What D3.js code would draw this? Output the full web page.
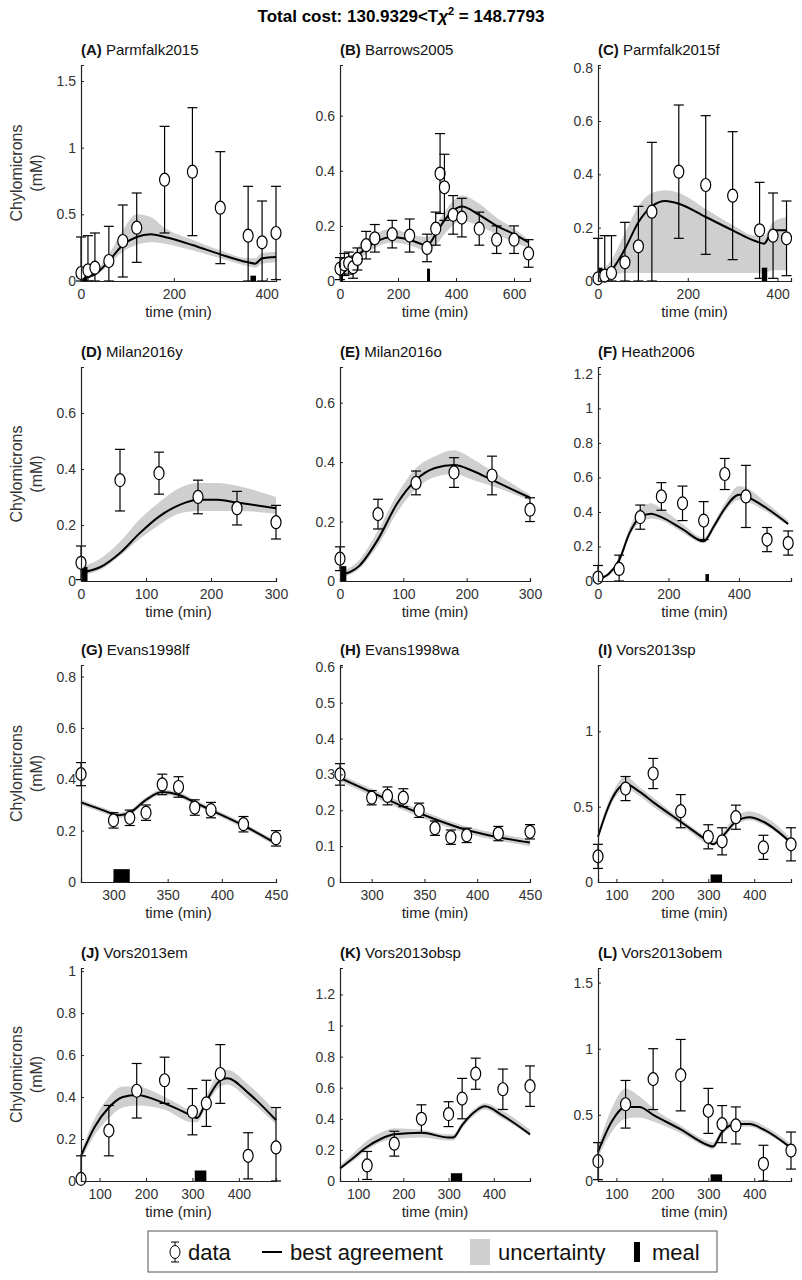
<!DOCTYPE html>
<html><head><meta charset="utf-8">
<script src="https://cdn.jsdelivr.net/npm/d3@7"></script>
<style>body{margin:0;background:#fff}</style></head>
<body><svg id="c" width="802" height="1280"></svg>
<script>
const panelNames=["Parmfalk2015","Barrows2005","Parmfalk2015f","Milan2016y","Milan2016o","Heath2006","Evans1998lf","Evans1998wa","Vors2013sp","Vors2013em","Vors2013obsp","Vors2013obem"];
const panelLetters=["A","B","C","D","E","F","G","H","I","J","K","L"];
const xDomains=[[0,420],[0,655],[0,430],[0,300],[0,300],[0,548],[270,450],[270,450],[60,480],[60,480],[60,480],[60,480]];
const yMax=[1.62,0.784,0.81,0.764,0.72,1.24,0.845,0.605,1.44,1.015,1.37,1.61];
const xTicks=[[0,200,400],[0,200,400,600],[0,200,400],[0,100,200,300],[0,100,200,300],[0,200,400],[300,350,400,450],[300,350,400,450],[100,200,300,400],[100,200,300,400],[100,200,300,400],[100,200,300,400]];
const yTicks=[[0,0.5,1,1.5],[0,0.2,0.4,0.6],[0,0.2,0.4,0.6,0.8],[0,0.2,0.4,0.6],[0,0.2,0.4,0.6],[0,0.2,0.4,0.6,0.8,1,1.2],[0,0.2,0.4,0.6,0.8],[0,0.1,0.2,0.3,0.4,0.5,0.6],[0,0.5,1],[0,0.2,0.4,0.6,0.8,1],[0,0.2,0.4,0.6,0.8,1,1.2],[0,0.5,1,1.5]];
// data points: [t, value, error]
const dataPts=[
[[0,0.06,0.27],[15,0.08,0.26],[30,0.1,0.26],[60,0.15,0.26],[90,0.3,0.27],[120,0.4,0.26],[180,0.76,0.4],[240,0.82,0.48],[300,0.55,0.42],[360,0.34,0.37],[390,0.29,0.31],[420,0.36,0.35]],
[[0,0.045,0.04],[15,0.06,0.04],[30,0.065,0.04],[45,0.05,0.04],[60,0.08,0.04],[90,0.13,0.05],[120,0.155,0.05],[180,0.17,0.05],[240,0.165,0.06],[300,0.12,0.05],[330,0.19,0.06],[345,0.39,0.145],[360,0.34,0.12],[390,0.24,0.07],[420,0.23,0.07],[480,0.19,0.06],[540,0.15,0.05],[600,0.15,0.05],[650,0.1,0.05]],
[[0,0.01,0.15],[15,0.02,0.15],[30,0.03,0.14],[60,0.07,0.15],[90,0.13,0.15],[120,0.26,0.26],[180,0.41,0.25],[240,0.36,0.26],[300,0.32,0.24],[360,0.19,0.18],[390,0.17,0.16],[420,0.16,0.14]],
[[0,0.065,0.06],[60,0.36,0.11],[120,0.385,0.075],[180,0.3,0.06],[240,0.26,0.06],[300,0.21,0.06]],
[[0,0.075,0.04],[60,0.225,0.05],[120,0.33,0.04],[180,0.365,0.05],[240,0.355,0.065],[300,0.24,0.04]],
[[0,0.02,0.07],[60,0.07,0.08],[120,0.37,0.07],[180,0.49,0.08],[240,0.45,0.1],[300,0.35,0.11],[360,0.62,0.09],[420,0.49,0.18],[480,0.24,0.07],[540,0.22,0.07]],
[[270,0.42,0.045],[300,0.24,0.03],[315,0.25,0.03],[330,0.27,0.03],[345,0.38,0.04],[360,0.37,0.04],[375,0.29,0.03],[390,0.28,0.03],[420,0.225,0.03],[450,0.17,0.03]],
[[270,0.3,0.03],[300,0.235,0.02],[315,0.24,0.025],[330,0.235,0.025],[345,0.2,0.02],[360,0.15,0.02],[375,0.125,0.02],[390,0.13,0.02],[420,0.135,0.02],[450,0.14,0.02]],
[[60,0.17,0.08],[120,0.62,0.08],[180,0.72,0.1],[240,0.47,0.11],[300,0.3,0.08],[330,0.27,0.09],[360,0.43,0.08],[420,0.23,0.08],[480,0.25,0.11]],
[[60,0.01,0.11],[120,0.24,0.12],[180,0.43,0.13],[240,0.48,0.11],[300,0.33,0.11],[330,0.37,0.11],[360,0.51,0.14],[420,0.12,0.11],[480,0.16,0.19]],
[[120,0.1,0.09],[180,0.24,0.08],[240,0.4,0.09],[300,0.43,0.08],[330,0.53,0.13],[360,0.69,0.1],[420,0.59,0.13],[480,0.61,0.13]],
[[60,0.15,0.14],[120,0.58,0.18],[180,0.77,0.23],[240,0.8,0.27],[300,0.53,0.17],[330,0.43,0.14],[360,0.42,0.14],[420,0.13,0.14],[480,0.23,0.14]]
];
// best agreement curves: [t, value, band low, band high]
const curves=[
[[0,0.02,0.01,0.03],[30,0.05,0.04,0.07],[60,0.15,0.12,0.2],[90,0.27,0.22,0.38],[120,0.33,0.27,0.5],[150,0.35,0.29,0.48],[180,0.33,0.28,0.4],[240,0.27,0.23,0.31],[300,0.2,0.17,0.23],[360,0.14,0.11,0.17],[375,0.13,0.1,0.17],[390,0.17,0.13,0.21],[420,0.18,0.14,0.22]],
[[0,0.02,0.01,0.04],[30,0.05,0.03,0.07],[60,0.09,0.07,0.12],[120,0.14,0.12,0.17],[180,0.16,0.14,0.19],[240,0.15,0.13,0.17],[300,0.13,0.11,0.16],[330,0.17,0.13,0.2],[360,0.22,0.17,0.25],[420,0.27,0.22,0.31],[480,0.24,0.2,0.28],[540,0.2,0.17,0.23],[600,0.17,0.14,0.19],[650,0.14,0.12,0.15]],
[[0,0.01,0.0,0.03],[30,0.04,0.02,0.08],[60,0.12,0.03,0.18],[90,0.22,0.03,0.28],[120,0.28,0.03,0.33],[150,0.3,0.03,0.34],[180,0.29,0.03,0.33],[240,0.24,0.03,0.27],[300,0.19,0.03,0.21],[350,0.15,0.03,0.17],[370,0.14,0.03,0.17],[390,0.19,0.04,0.22],[420,0.19,0.04,0.24]],
[[0,0.03,0.02,0.05],[30,0.05,0.04,0.08],[60,0.1,0.09,0.14],[90,0.17,0.15,0.22],[120,0.23,0.2,0.28],[150,0.27,0.24,0.33],[180,0.29,0.25,0.35],[210,0.29,0.25,0.35],[240,0.28,0.25,0.34],[300,0.26,0.24,0.3]],
[[0,0.02,0.01,0.03],[30,0.05,0.04,0.07],[60,0.14,0.12,0.17],[90,0.26,0.23,0.29],[120,0.34,0.31,0.38],[150,0.38,0.35,0.42],[180,0.39,0.36,0.44],[210,0.37,0.34,0.41],[240,0.34,0.32,0.37],[300,0.28,0.27,0.29]],
[[0,0.01,0.0,0.02],[30,0.04,0.03,0.05],[60,0.12,0.1,0.14],[90,0.28,0.26,0.31],[120,0.37,0.34,0.42],[150,0.39,0.36,0.45],[180,0.37,0.35,0.42],[240,0.3,0.28,0.33],[300,0.23,0.22,0.25],[330,0.32,0.3,0.34],[360,0.42,0.4,0.45],[400,0.5,0.47,0.55],[420,0.49,0.46,0.54],[480,0.42,0.4,0.45],[540,0.33,0.32,0.35]],
[[270,0.31,0.3,0.32],[290,0.28,0.27,0.29],[305,0.26,0.25,0.27],[315,0.27,0.26,0.28],[330,0.32,0.31,0.33],[345,0.35,0.34,0.36],[360,0.34,0.33,0.35],[375,0.31,0.3,0.32],[390,0.28,0.27,0.29],[420,0.22,0.21,0.23],[450,0.15,0.14,0.16]],
[[270,0.29,0.28,0.3],[300,0.25,0.24,0.26],[330,0.21,0.2,0.22],[360,0.175,0.165,0.185],[390,0.145,0.135,0.155],[420,0.125,0.115,0.135],[450,0.11,0.1,0.12]],
[[60,0.3,0.28,0.33],[90,0.55,0.52,0.58],[120,0.65,0.62,0.7],[150,0.6,0.57,0.63],[180,0.53,0.5,0.56],[240,0.4,0.38,0.42],[300,0.27,0.25,0.29],[310,0.25,0.24,0.27],[330,0.3,0.28,0.32],[360,0.4,0.38,0.44],[390,0.43,0.41,0.47],[420,0.4,0.38,0.44],[480,0.26,0.25,0.29]],
[[60,0.12,0.1,0.14],[90,0.26,0.22,0.3],[120,0.35,0.3,0.4],[150,0.4,0.35,0.45],[180,0.41,0.36,0.45],[240,0.37,0.34,0.4],[300,0.31,0.28,0.33],[310,0.3,0.28,0.32],[330,0.38,0.36,0.41],[360,0.48,0.45,0.52],[375,0.49,0.46,0.53],[420,0.42,0.39,0.46],[480,0.29,0.27,0.33]],
[[60,0.08,0.07,0.1],[90,0.15,0.13,0.18],[120,0.22,0.2,0.26],[150,0.27,0.25,0.31],[180,0.3,0.27,0.34],[240,0.31,0.28,0.33],[300,0.28,0.26,0.3],[310,0.28,0.26,0.3],[330,0.36,0.34,0.38],[360,0.45,0.43,0.47],[380,0.48,0.46,0.5],[420,0.42,0.4,0.45],[480,0.3,0.29,0.33]],
[[60,0.22,0.18,0.26],[90,0.45,0.37,0.55],[120,0.56,0.47,0.7],[150,0.56,0.48,0.64],[180,0.5,0.45,0.55],[240,0.39,0.36,0.42],[300,0.27,0.25,0.3],[310,0.26,0.24,0.29],[330,0.37,0.35,0.4],[360,0.43,0.41,0.46],[390,0.43,0.41,0.46],[420,0.39,0.37,0.42],[480,0.25,0.24,0.28]]
];
// meals: [start, end, height]
const meals=[
[[3,13,0.03],[365,377,0.04]],
[[0,7,0.045],[300,310,0.045]],
[[0,10,0.05],[365,377,0.05]],
[[0,10,0.05]],
[[0,10,0.05]],
[[0,5,0.02],[305,315,0.04]],
[[300,315,0.05]],
[],
[[305,330,0.05]],
[[305,330,0.05]],
[[305,330,0.05]],
[[305,330,0.05]]
];
const legendItems=["data","best agreement","uncertainty","meal"];

const svg=d3.select("#c");
const font="'Liberation Sans Narrow','Liberation Sans',Arial,sans-serif";
svg.append("text").attr("x",401).attr("y",22).attr("text-anchor","middle")
 .attr("font-family","'Liberation Sans',Arial,sans-serif").attr("font-weight","bold").attr("font-size",17)
 .html('Total cost: 130.9329&lt;T<tspan font-style="italic">χ</tspan><tspan dy="-7" font-size="11">2</tspan><tspan dy="7"> = 148.7793</tspan>');
const colX=[[81,276],[340,530],[598,791]];
const rowY=[[65,281],[367,581],[665,882],[968,1181]];
panelNames.forEach((nm,i)=>{
 const c=i%3,r=Math.floor(i/3);
 const x=d3.scaleLinear().domain(xDomains[i]).range(colX[c]);
 const y=d3.scaleLinear().domain([0,yMax[i]]).range([rowY[r][1],rowY[r][0]]);
 const g=svg.append("g");
 g.append("path").datum(curves[i]).attr("fill","#cfcfcf")
  .attr("d",d3.area().x(d=>x(d[0])).y0(d=>y(d[2])).y1(d=>y(d[3])).curve(d3.curveMonotoneX));
 g.selectAll(".meal").data(meals[i]).join("rect").attr("x",d=>x(d[0])).attr("width",d=>Math.max(3,x(d[1])-x(d[0])))
  .attr("y",d=>y(d[2])).attr("height",d=>y(0)-y(d[2])).attr("fill","#000");
 g.append("path").datum(curves[i]).attr("fill","none").attr("stroke","#000").attr("stroke-width",2)
  .attr("d",d3.line().x(d=>x(d[0])).y(d=>y(d[1])).curve(d3.curveMonotoneX));
 const pts=g.selectAll(".pt").data(dataPts[i]).join("g");
 pts.append("line").attr("x1",d=>x(d[0])).attr("x2",d=>x(d[0])).attr("y1",d=>y(Math.max(0,d[1]-d[2]))).attr("y2",d=>y(d[1]+d[2])).attr("stroke","#000").attr("stroke-width",1.2);
 [1,-1].forEach(s=>pts.append("line").attr("x1",d=>x(d[0])-5).attr("x2",d=>x(d[0])+5)
   .attr("y1",d=>y(s>0?d[1]+d[2]:Math.max(0,d[1]-d[2]))).attr("y2",d=>y(s>0?d[1]+d[2]:Math.max(0,d[1]-d[2]))).attr("stroke","#000").attr("stroke-width",1.2));
 pts.append("ellipse").attr("cx",d=>x(d[0])).attr("cy",d=>y(d[1])).attr("rx",5).attr("ry",6.5).attr("fill","#fff").attr("stroke","#000").attr("stroke-width",1.2);
 const ax=g.append("g").attr("transform",`translate(0,${y(0)})`).call(d3.axisBottom(x).tickValues(xTicks[i]).tickSize(-3).tickPadding(8).tickFormat(d3.format("")));
 const ay=g.append("g").attr("transform",`translate(${x.range()[0]},0)`).call(d3.axisLeft(y).tickValues(yTicks[i]).tickSize(-3).tickPadding(5).tickFormat(d=>d===0?"0":d3.format("")(d)));
 [ax,ay].forEach(a=>{a.select(".domain").attr("stroke","#222").attr("stroke-width",1.2);
  a.selectAll("text").attr("font-family",font).attr("font-size",14).attr("fill","#333");
  a.selectAll(".tick line").attr("stroke","#222");});
 g.append("text").attr("x",(colX[c][0]+colX[c][1])/2).attr("y",rowY[r][1]+36).attr("text-anchor","middle")
  .attr("font-family",font).attr("font-size",15).attr("fill","#222").text("time (min)");
 g.append("text").attr("x",colX[c][0]).attr("y",rowY[r][0]-10).attr("font-family",font).attr("font-size",15).attr("fill","#111")
  .html(`<tspan font-weight="bold">(${panelLetters[i]})</tspan> ${nm}`);
 if(c===0){
  const cy=(rowY[r][0]+rowY[r][1])/2;
  const t=g.append("text").attr("transform",`translate(22,${cy}) rotate(-90)`).attr("text-anchor","middle")
   .attr("font-family","'Liberation Sans',Arial,sans-serif").attr("font-size",16).attr("fill","#333");
  t.append("tspan").attr("x",0).attr("dy",0).text("Chylomicrons");
  t.append("tspan").attr("x",0).attr("dy",20).text("(mM)");
 }
});
// legend
const lg=svg.append("g");
lg.append("rect").attr("x",148).attr("y",1231).attr("width",569).attr("height",41).attr("fill","#fff").attr("stroke","#555");
const lf=lg.append("g").attr("font-family",font).attr("font-size",22).attr("fill","#111");
const ly=1252;
lf.append("line").attr("x1",175).attr("x2",175).attr("y1",ly-10).attr("y2",ly+10).attr("stroke","#000");
lf.append("line").attr("x1",171).attr("x2",179).attr("y1",ly-10).attr("y2",ly-10).attr("stroke","#000");
lf.append("line").attr("x1",171).attr("x2",179).attr("y1",ly+10).attr("y2",ly+10).attr("stroke","#000");
lf.append("ellipse").attr("cx",175).attr("cy",ly).attr("rx",5).attr("ry",6.5).attr("fill","#fff").attr("stroke","#000");
lf.append("text").attr("x",188).attr("y",ly+8).text(legendItems[0]);
lf.append("line").attr("x1",262).attr("x2",282).attr("y1",ly).attr("y2",ly).attr("stroke","#000").attr("stroke-width",2);
lf.append("text").attr("x",290).attr("y",ly+8).text(legendItems[1]);
lf.append("rect").attr("x",470).attr("y",ly-13).attr("width",20).attr("height",26).attr("fill","#cfcfcf");
lf.append("text").attr("x",498).attr("y",ly+8).text(legendItems[2]);
lf.append("rect").attr("x",634).attr("y",ly-10).attr("width",6).attr("height",20).attr("fill","#000");
lf.append("text").attr("x",652).attr("y",ly+8).text(legendItems[3]);
</script></body></html>
